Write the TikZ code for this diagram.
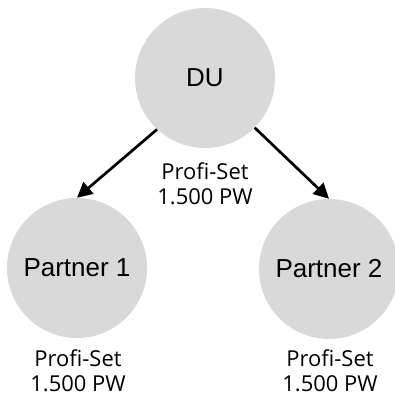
\documentclass[tikz,border=0pt]{standalone}
\usepackage{fontspec}
\setmainfont{Open Sans}
\newfontfamily\arialfont{Liberation Sans}
\usetikzlibrary{arrows.meta}
\definecolor{partnergray}{RGB}{217,217,217}
\tikzset{
  party/.style={circle,fill=partnergray,minimum size=3.5cm,inner sep=0pt,
    font=\arialfont\fontsize{18.5}{22}\selectfont},
  setlabel/.style={align=center,font=\fontsize{15.6}{17.8}\selectfont},
  flow/.style={line width=0.068cm,-{Triangle[length=0.38cm,width=0.38cm]}}
}
\begin{document}
\begin{tikzpicture}
\useasboundingbox (0,0) rectangle (9.875,9.9);
\node[party] (du) at (5.125,7.95) {DU};
\node[party] (p1) at (1.925,3.2) {Partner 1};
\node[party] (p2) at (8.225,3.175) {Partner 2};
\draw[flow] (du.227) -- (p1.north);
\draw[flow] (du.-45) -- (p2.north);
\node[setlabel] (dulabel) at (5.125,5.3) {Profi-Set\\1.500 PW};
\node[setlabel] (p1label) at (1.95,0.63) {Profi-Set\\1.500 PW};
\node[setlabel] (p2label) at (8.25,0.62) {Profi-Set\\1.500 PW};

\end{tikzpicture}
\end{document}
